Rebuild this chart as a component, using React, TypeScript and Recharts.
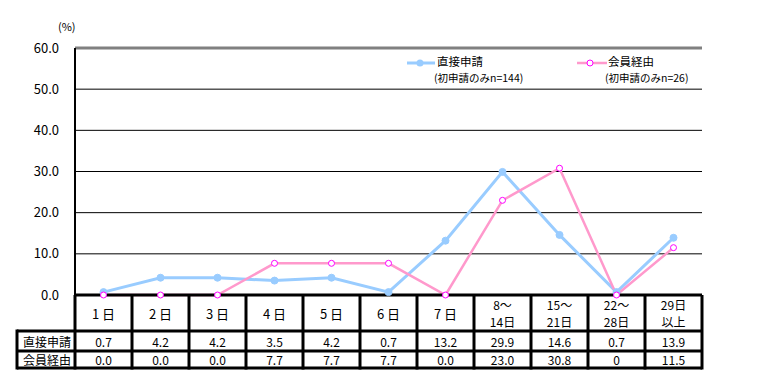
import { LineChart, Line, XAxis, YAxis, ReferenceLine } from 'recharts';

const categories = ['1 日', '2 日', '3 日', '4 日', '5 日', '6 日', '7 日', '8～\n14日', '15～\n21日', '22～\n28日', '29日\n以上'];
const direct = [0.7, 4.2, 4.2, 3.5, 4.2, 0.7, 13.2, 29.9, 14.6, 0.7, 13.9];
const member = [0.0, 0.0, 0.0, 7.7, 7.7, 7.7, 0.0, 23.0, 30.8, 0, 11.5];
const directText = ['0.7', '4.2', '4.2', '3.5', '4.2', '0.7', '13.2', '29.9', '14.6', '0.7', '13.9'];
const memberText = ['0.0', '0.0', '0.0', '7.7', '7.7', '7.7', '0.0', '23.0', '30.8', '0', '11.5'];
const yTicks = [0, 10, 20, 30, 40, 50, 60];
const rowNames = ['直接申請', '会員経由'];

const data = categories.map((c, i) => ({ cat: c, direct: direct[i], member: member[i] }));

const FONT = '"Noto Sans CJK JP", "Noto Sans", sans-serif';
const W = 777;
const H = 386;
const LEFT = 75;
const RIGHT = 702;
const TOP = 48;
const BOTTOM = 295;
const BAND = (RIGHT - LEFT) / categories.length;
const ROW1 = 331;
const ROW2 = 351;
const TABLE_END = 368;
const LABEL_LEFT = 17;

const BLUE = '#99CCFF';
const PINK = '#FF99CC';
const MAGENTA = '#FF00FF';

function TableTick(props: any) {
  const { x, index, payload } = props;
  const lines = String(payload.value).split('\n');
  const right = x + BAND / 2;
  return (
    <g fontFamily={FONT} fill="#000">
      {index === 0 && (
        <g>
          <line x1={LEFT} x2={LEFT} y1={BOTTOM} y2={TABLE_END + 1.5} stroke="#000" strokeWidth={3} />
          <line x1={LABEL_LEFT} x2={LABEL_LEFT} y1={ROW1 - 1.5} y2={TABLE_END + 1.5} stroke="#000" strokeWidth={3} />
          <line x1={LABEL_LEFT} x2={RIGHT} y1={ROW1} y2={ROW1} stroke="#000" strokeWidth={3} />
          <line x1={LABEL_LEFT} x2={RIGHT} y1={ROW2} y2={ROW2} stroke="#000" strokeWidth={3} />
          <line x1={LABEL_LEFT} x2={RIGHT} y1={TABLE_END} y2={TABLE_END} stroke="#000" strokeWidth={3} />
          {rowNames.map((r, k) => (
            <text key={r} x={(LABEL_LEFT + LEFT) / 2 + 1} y={k === 0 ? 341 : 359.5} textAnchor="middle" dominantBaseline="central" fontSize={12} stroke="none">
              {r}
            </text>
          ))}
        </g>
      )}
      <line x1={right} x2={right} y1={BOTTOM} y2={TABLE_END + 1.5} stroke="#000" strokeWidth={3} />
      {lines.length === 1 ? (
        <text x={x} y={313} textAnchor="middle" dominantBaseline="central" fontSize={13} stroke="none">
          {lines[0]}
        </text>
      ) : (
        lines.map((l, k) => (
          <text key={k} x={x} y={k === 0 ? 304 : 321.5} textAnchor="middle" dominantBaseline="central" fontSize={12} stroke="none">
            {l}
          </text>
        ))
      )}
      <text x={x} y={341} textAnchor="middle" dominantBaseline="central" fontSize={12} stroke="none">
        {directText[index]}
      </text>
      <text x={x} y={359.5} textAnchor="middle" dominantBaseline="central" fontSize={12} stroke="none">
        {memberText[index]}
      </text>
    </g>
  );
}

function LegendBox() {
  return (
    <svg width={330} height={40} style={{ position: 'absolute', left: 407, top: 55, fontFamily: FONT, overflow: 'visible' }}>
      <line x1={0} x2={28} y1={8} y2={8} stroke={BLUE} strokeWidth={3} />
      <circle cx={13} cy={8} r={3.5} fill={BLUE} />
      <text x={30} y={6} dominantBaseline="central" fontSize={11.5}>直接申請</text>
      <text x={27} y={22} dominantBaseline="central" fontSize={10.5}>(初申請のみn=144)</text>
      <line x1={170} x2={200} y1={8} y2={8} stroke={PINK} strokeWidth={2.5} />
      <circle cx={183} cy={8} r={3} fill="#fff" stroke={MAGENTA} strokeWidth={1} />
      <text x={201} y={6} dominantBaseline="central" fontSize={11.5}>会員経由</text>
      <text x={198} y={22} dominantBaseline="central" fontSize={10.5}>(初申請のみn=26)</text>
    </svg>
  );
}

export default function App() {
  return (
    <div style={{ position: 'absolute', left: 0, top: 0, width: W, height: H, background: '#fff' }}>
      <div style={{ position: 'absolute', left: 58, top: 18, fontSize: 11, fontFamily: FONT }}>(%)</div>
      <LineChart width={W} height={H} data={data} margin={{ top: TOP, right: W - RIGHT, bottom: 0, left: 0 }}>
        {[10, 20, 30, 40, 50].map((v) => (
          <ReferenceLine key={v} y={v} yAxisId="l" stroke="#000" strokeWidth={1} />
        ))}
        <ReferenceLine y={60} yAxisId="l" stroke="#808080" strokeWidth={3} />
        <XAxis
          dataKey="cat"
          interval={0}
          height={H - BOTTOM}
          padding={{ left: BAND / 2, right: BAND / 2 }}
          tickLine={false}
          axisLine={{ stroke: '#000', strokeWidth: 3 }}
          tick={<TableTick />}
        />
        <YAxis
          yAxisId="l"
          width={LEFT}
          domain={[0, 60]}
          ticks={yTicks}
          tickFormatter={(v: number) => v.toFixed(1)}
          tickLine={false}
          axisLine={{ stroke: '#000', strokeWidth: 2 }}
          tick={{ fill: '#000', fontSize: 13, fontFamily: FONT }}
          tickMargin={10}
        />
        <YAxis
          yAxisId="r"
          orientation="right"
          width={0}
          domain={[0, 60]}
          tick={false}
          tickLine={false}
          axisLine={{ stroke: '#808080', strokeWidth: 3 }}
        />
        <Line
          yAxisId="l"
          dataKey="direct"
          type="linear"
          stroke={BLUE}
          strokeWidth={3}
          dot={{ r: 3.5, fill: BLUE, stroke: BLUE, strokeWidth: 1 }}
          isAnimationActive={false}
        />
        <Line
          yAxisId="l"
          dataKey="member"
          type="linear"
          stroke={PINK}
          strokeWidth={2.5}
          dot={{ r: 3, fill: '#fff', stroke: MAGENTA, strokeWidth: 1 }}
          isAnimationActive={false}
        />
      </LineChart>
      <LegendBox />
    </div>
  );
}
